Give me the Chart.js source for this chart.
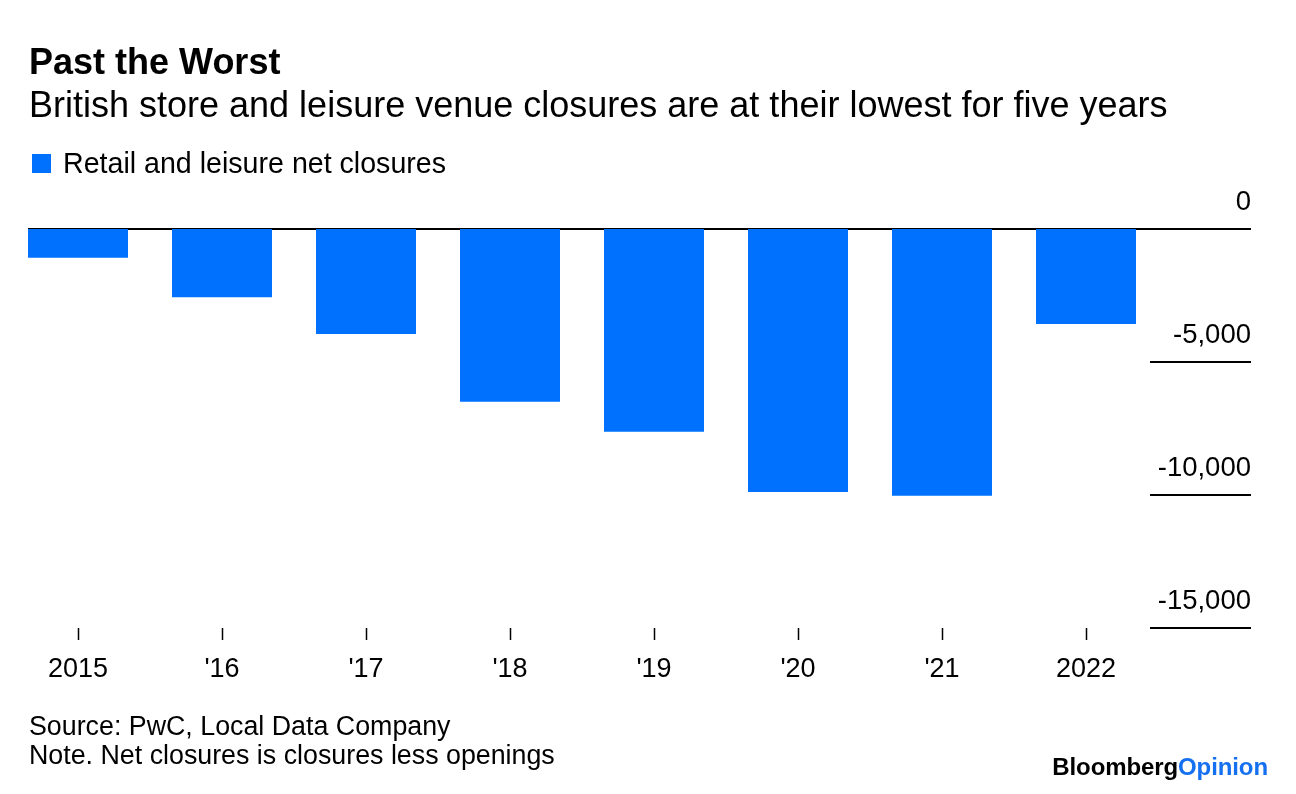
<!DOCTYPE html>
<html>
<head>
<meta charset="utf-8">
<script src="https://cdn.jsdelivr.net/npm/chart.js@4.4.1/dist/chart.umd.min.js"></script>
<style>
  html, body { margin:0; padding:0; background:#fff; }
  body { width:1296px; height:794px; position:relative; overflow:hidden; font-family:"Liberation Sans", Arial, sans-serif; color:#000; }
  #chart { position:absolute; left:0; top:0; z-index:0; }
  .t { position:absolute; white-space:nowrap; z-index:1; }
  #title { left:29px; top:43.8px; font-size:36px; line-height:36px; font-weight:bold; }
  #subtitle { left:29px; top:86.8px; font-size:36px; line-height:36px; }
  #legend { left:32px; top:149.2px; font-size:28.6px; line-height:28.6px; }
  #legend .sw { position:absolute; left:0; top:5px; width:19px; height:19px; background:#0070ff; }
  #legend .lb { position:absolute; left:31px; top:0; }
  #src { left:29px; top:711.5px; font-size:26.8px; line-height:29px; }
  #logo { right:28px; top:754.7px; font-size:24px; line-height:24px; font-weight:bold; letter-spacing:-0.1px; }
  #logo span { color:#1470f0; }
</style>
</head>
<body>
<canvas id="chart" width="1296" height="794"></canvas>
<div class="t" id="title">Past the Worst</div>
<div class="t" id="subtitle">British store and leisure venue closures are at their lowest for five years</div>
<div class="t" id="legend"><div class="sw"></div><div class="lb">Retail and leisure net closures</div></div>
<div class="t" id="src">Source: PwC, Local Data Company<br>Note. Net closures is closures less openings</div>
<div class="t" id="logo">Bloomberg<span>Opinion</span></div>
<script>
// ---- data ----
const categories = ['2015', "'16", "'17", "'18", "'19", "'20", "'21", '2022'];
const netClosures = [-1080, -2570, -3950, -6490, -7620, -9890, -10030, -3570];
const yTickValues = [0, -5000, -10000, -15000];
const seriesLabel = 'Retail and leisure net closures';

const FONT = '"Liberation Sans", Arial, sans-serif';

const lineRules = {
  id: 'lineRules',
  beforeDatasetsDraw(chart) {
    const ctx = chart.ctx;
    const y = chart.scales.y;
    const meta = chart.getDatasetMeta(0);
    const first = meta.data[0];
    const leftZero = first.x - first.width / 2;
    const right = y.right;
    ctx.save();
    ctx.strokeStyle = '#000';
    ctx.lineWidth = 2;
    y.ticks.forEach(t => {
      const py = Math.round(y.getPixelForValue(t.value));
      const x1 = t.value === 0 ? leftZero : right - 101;
      ctx.beginPath();
      ctx.moveTo(x1, py);
      ctx.lineTo(right, py);
      ctx.stroke();
    });
    ctx.restore();
  }
};

new Chart(document.getElementById('chart'), {
  type: 'bar',
  data: {
    labels: categories,
    datasets: [{
      label: seriesLabel,
      data: netClosures,
      backgroundColor: '#0070ff',
      borderWidth: 0,
      categoryPercentage: 1,
      barPercentage: 100 / 144
    }]
  },
  options: {
    responsive: false,
    animation: false,
    devicePixelRatio: 1,
    layout: { padding: { left: 6, right: 45, top: 229, bottom: 0 } },
    plugins: { legend: { display: false }, tooltip: { enabled: false }, title: { display: false } },
    scales: {
      x: {
        offset: true,
        grid: { offset: false, drawOnChartArea: false, drawTicks: true, tickLength: 12, tickColor: '#000', tickWidth: 1.5 },
        border: { display: false },
        ticks: { color: '#000', font: { family: FONT, size: 27 }, padding: 13, autoSkip: false, maxRotation: 0, minRotation: 0 },
        afterFit(scale) { scale.height = 166; scale.paddingLeft = 0; scale.paddingRight = 0; }
      },
      y: {
        position: 'right',
        min: -15000,
        max: 0,
        grid: { display: false, drawTicks: false },
        border: { display: false },
        afterBuildTicks(scale) { scale.ticks = yTickValues.map(v => ({ value: v })); },
        ticks: {
          color: '#000',
          font: { family: FONT, size: 27.5 },
          crossAlign: 'far',
          padding: 0,
          labelOffset: -27,
          callback: v => v.toLocaleString('en-US')
        },
        afterFit(scale) { scale.width = 93; scale.paddingTop = 0; scale.paddingBottom = 0; }
      }
    }
  },
  plugins: [lineRules]
});
</script>
</body>
</html>
